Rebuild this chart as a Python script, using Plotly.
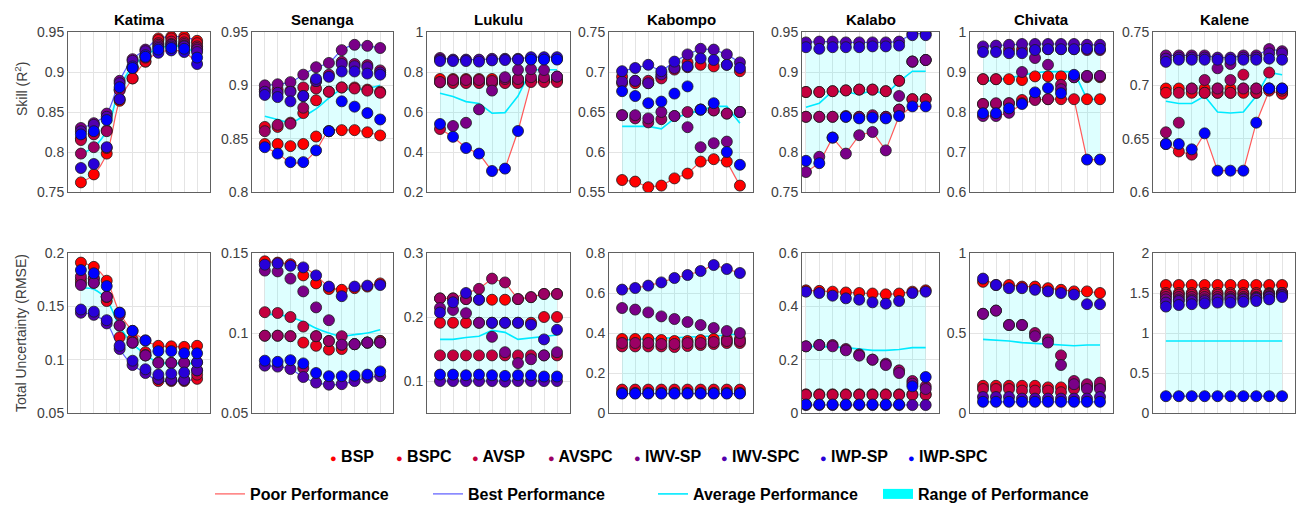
import plotly.graph_objects as go

W, H = 1300, 506

STATIONS = ["Katima", "Senanga", "Lukulu", "Kabompo", "Kalabo", "Chivata", "Kalene"]
METHODS = ["BSP", "BSPC", "AVSP", "AVSPC", "IWV-SP", "IWV-SPC", "IWP-SP", "IWP-SPC"]
COLORS = ["#ff0000", "#e8001c", "#c4003e", "#9c0064", "#7a0088", "#5200ae", "#2800d8", "#0000ff"]
LEAD = [1, 2, 3, 4, 5, 6, 7, 8, 9, 10]

# ---------------- Skill (R2) ----------------
R2_KATIMA = {
    "BSP":     [0.762, 0.772, 0.798, 0.864, 0.892, 0.913, 0.942, 0.944, 0.944, 0.939],
    "BSPC":    [0.817, 0.823, 0.805, 0.866, 0.892, 0.913, 0.940, 0.942, 0.941, 0.936],
    "AVSP":    [0.815, 0.822, 0.827, 0.878, 0.905, 0.918, 0.936, 0.938, 0.937, 0.932],
    "AVSPC":   [0.798, 0.806, 0.826, 0.877, 0.906, 0.920, 0.934, 0.935, 0.935, 0.930],
    "IWV-SP":  [0.830, 0.836, 0.848, 0.889, 0.916, 0.928, 0.932, 0.934, 0.933, 0.928],
    "IWV-SPC": [0.826, 0.834, 0.844, 0.886, 0.914, 0.926, 0.930, 0.932, 0.932, 0.925],
    "IWP-SP":  [0.780, 0.785, 0.806, 0.866, 0.907, 0.921, 0.924, 0.927, 0.925, 0.910],
    "IWP-SPC": [0.822, 0.826, 0.840, 0.881, 0.905, 0.919, 0.928, 0.930, 0.929, 0.918],
}
R2_SENANGA = {
    "BSP":     [0.845, 0.845, 0.843, 0.845, 0.852, 0.857, 0.858, 0.858, 0.856, 0.853],
    "BSPC":    [0.861, 0.861, 0.865, 0.874, 0.886, 0.894, 0.898, 0.898, 0.896, 0.894],
    "AVSP":    [0.896, 0.896, 0.895, 0.898, 0.897, 0.894, 0.898, 0.897, 0.895, 0.893],
    "AVSPC":   [0.857, 0.863, 0.864, 0.879, 0.904, 0.910, 0.922, 0.920, 0.919, 0.914],
    "IWV-SP":  [0.900, 0.901, 0.903, 0.910, 0.917, 0.921, 0.933, 0.938, 0.937, 0.935],
    "IWV-SPC": [0.894, 0.893, 0.894, 0.890, 0.904, 0.857, 0.920, 0.918, 0.917, 0.912],
    "IWP-SP":  [0.891, 0.889, 0.885, 0.890, 0.906, 0.908, 0.913, 0.913, 0.911, 0.910],
    "IWP-SPC": [0.842, 0.836, 0.828, 0.828, 0.839, 0.857, 0.885, 0.880, 0.874, 0.868],
}
R2_LUKULU = {
    "BSP":     [0.765, 0.765, 0.765, 0.765, 0.765, 0.765, 0.765, 0.760, 0.760, 0.760],
    "BSPC":    [0.748, 0.748, 0.748, 0.748, 0.748, 0.748, 0.748, 0.757, 0.757, 0.757],
    "AVSP":    [0.515, 0.745, 0.745, 0.745, 0.745, 0.745, 0.745, 0.750, 0.750, 0.750],
    "AVSPC":   [0.750, 0.760, 0.760, 0.760, 0.755, 0.765, 0.765, 0.774, 0.774, 0.777],
    "IWV-SP":  [0.870, 0.530, 0.546, 0.613, 0.707, 0.774, 0.811, 0.814, 0.810, 0.777],
    "IWV-SPC": [0.862, 0.862, 0.862, 0.862, 0.866, 0.866, 0.866, 0.866, 0.866, 0.866],
    "IWP-SP":  [0.855, 0.855, 0.855, 0.852, 0.858, 0.860, 0.862, 0.874, 0.874, 0.874],
    "IWP-SPC": [0.540, 0.476, 0.420, 0.392, 0.305, 0.317, 0.505, 0.862, 0.862, 0.862],
}
R2_KABOMPO = {
    "BSP":     [0.565, 0.563, 0.556, 0.558, 0.567, 0.573, 0.588, 0.591, 0.588, 0.558],
    "BSPC":    [0.694, 0.686, 0.686, 0.694, 0.705, 0.712, 0.709, 0.707, 0.709, 0.701],
    "AVSP":    [0.686, 0.689, 0.689, 0.692, 0.703, 0.706, 0.653, 0.652, 0.648, 0.650],
    "AVSPC":   [0.646, 0.642, 0.637, 0.641, 0.645, 0.650, 0.653, 0.652, 0.648, 0.650],
    "IWV-SP":  [0.646, 0.646, 0.642, 0.650, 0.645, 0.631, 0.606, 0.611, 0.613, 0.650],
    "IWV-SPC": [0.688, 0.689, 0.686, 0.697, 0.705, 0.722, 0.729, 0.728, 0.722, 0.712],
    "IWP-SP":  [0.701, 0.705, 0.709, 0.701, 0.713, 0.707, 0.717, 0.715, 0.709, 0.705],
    "IWP-SPC": [0.676, 0.670, 0.661, 0.663, 0.673, 0.682, 0.653, 0.661, 0.600, 0.584],
}
R2_KALABO = {
    "BSP":     [0.875, 0.875, 0.876, 0.877, 0.878, 0.878, 0.876, 0.889, 0.913, 0.915],
    "BSPC":    [0.844, 0.844, 0.844, 0.844, 0.844, 0.844, 0.844, 0.853, 0.866, 0.866],
    "AVSP":    [0.875, 0.875, 0.876, 0.877, 0.878, 0.878, 0.876, 0.889, 0.866, 0.866],
    "AVSPC":   [0.844, 0.844, 0.844, 0.845, 0.844, 0.846, 0.844, 0.853, 0.913, 0.915],
    "IWV-SP":  [0.775, 0.794, 0.818, 0.798, 0.821, 0.825, 0.802, 0.870, 0.913, 0.915],
    "IWV-SPC": [0.937, 0.938, 0.938, 0.937, 0.937, 0.937, 0.937, 0.938, 0.948, 0.948],
    "IWP-SP":  [0.931, 0.929, 0.931, 0.931, 0.931, 0.932, 0.932, 0.933, 0.946, 0.946],
    "IWP-SPC": [0.789, 0.786, 0.818, 0.844, 0.842, 0.843, 0.842, 0.845, 0.857, 0.857],
}
R2_CHIVATA = {
    "BSP":     [0.882, 0.882, 0.882, 0.880, 0.889, 0.889, 0.889, 0.887, 0.832, 0.832],
    "BSPC":    [0.820, 0.820, 0.822, 0.830, 0.832, 0.832, 0.832, 0.832, 0.887, 0.887],
    "AVSP":    [0.882, 0.882, 0.956, 0.956, 0.956, 0.957, 0.957, 0.957, 0.890, 0.890],
    "AVSPC":   [0.820, 0.822, 0.822, 0.822, 0.830, 0.832, 0.868, 0.887, 0.955, 0.955],
    "IWV-SP":  [0.790, 0.790, 0.798, 0.900, 0.935, 0.918, 0.857, 0.887, 0.890, 0.890],
    "IWV-SPC": [0.964, 0.966, 0.968, 0.970, 0.970, 0.970, 0.970, 0.970, 0.968, 0.968],
    "IWP-SP":  [0.950, 0.950, 0.947, 0.947, 0.955, 0.957, 0.957, 0.957, 0.958, 0.958],
    "IWP-SPC": [0.797, 0.797, 0.809, 0.820, 0.849, 0.860, 0.847, 0.893, 0.681, 0.681],
}
R2_KALENE = {
    "BSP":     [0.697, 0.697, 0.697, 0.697, 0.697, 0.697, 0.697, 0.697, 0.697, 0.693],
    "BSPC":    [0.693, 0.638, 0.693, 0.693, 0.693, 0.693, 0.693, 0.693, 0.695, 0.692],
    "AVSP":    [0.645, 0.693, 0.635, 0.693, 0.693, 0.693, 0.710, 0.693, 0.712, 0.695],
    "AVSPC":   [0.656, 0.665, 0.697, 0.705, 0.697, 0.705, 0.697, 0.697, 0.697, 0.697],
    "IWV-SP":  [0.728, 0.728, 0.728, 0.728, 0.716, 0.720, 0.728, 0.728, 0.734, 0.732],
    "IWV-SPC": [0.725, 0.726, 0.726, 0.726, 0.726, 0.726, 0.726, 0.726, 0.730, 0.730],
    "IWP-SP":  [0.722, 0.724, 0.724, 0.724, 0.724, 0.724, 0.724, 0.724, 0.725, 0.724],
    "IWP-SPC": [0.645, 0.645, 0.640, 0.655, 0.620, 0.620, 0.620, 0.665, 0.697, 0.697],
}
R2_AVG = {
    "Katima":  [0.798, 0.806, 0.827, 0.880, 0.907, 0.920, 0.930, 0.932, 0.932, 0.921],
    "Senanga": [0.871, 0.868, 0.865, 0.871, 0.878, 0.888, 0.896, 0.896, 0.897, 0.900],
    "Lukulu":  [0.694, 0.677, 0.652, 0.643, 0.594, 0.597, 0.680, 0.811, 0.811, 0.811],
    "Kabompo": [0.632, 0.632, 0.632, 0.629, 0.642, 0.648, 0.652, 0.657, 0.657, 0.636],
    "Kalabo":  [0.856, 0.861, 0.876, 0.875, 0.872, 0.877, 0.872, 0.888, 0.901, 0.901],
    "Chivata": [0.876, 0.880, 0.885, 0.892, 0.898, 0.901, 0.901, 0.901, 0.832, 0.832],
    "Kalene":  [0.685, 0.683, 0.683, 0.690, 0.675, 0.674, 0.675, 0.690, 0.712, 0.710],
}

# ---------------- Total uncertainty (RMSE) ----------------
RMSE_KATIMA = {
    "BSP":     [0.191, 0.187, 0.174, 0.144, 0.127, 0.118, 0.113, 0.1125, 0.112, 0.113],
    "BSPC":    [0.172, 0.172, 0.155, 0.121, 0.119, 0.107, 0.080, 0.080, 0.080, 0.082],
    "AVSP":    [0.175, 0.176, 0.159, 0.132, 0.116, 0.104, 0.082, 0.081, 0.081, 0.086],
    "AVSPC":   [0.178, 0.176, 0.159, 0.142, 0.116, 0.104, 0.0975, 0.097, 0.097, 0.0975],
    "IWV-SP":  [0.170, 0.172, 0.159, 0.132, 0.116, 0.104, 0.097, 0.097, 0.097, 0.090],
    "IWV-SPC": [0.144, 0.142, 0.134, 0.110, 0.095, 0.0875, 0.082, 0.081, 0.081, 0.090],
    "IWP-SP":  [0.147, 0.145, 0.137, 0.113, 0.099, 0.091, 0.086, 0.087, 0.088, 0.0975],
    "IWP-SPC": [0.184, 0.181, 0.169, 0.144, 0.127, 0.118, 0.108, 0.108, 0.106, 0.106],
}
RMSE_SENANGA = {
    "BSP":     [0.1448, 0.144, 0.143, 0.136, 0.131, 0.1275, 0.127, 0.128, 0.129, 0.131],
    "BSPC":    [0.0983, 0.0983, 0.098, 0.094, 0.092, 0.0896, 0.090, 0.093, 0.094, 0.095],
    "AVSP":    [0.113, 0.1125, 0.110, 0.104, 0.098, 0.095, 0.0927, 0.093, 0.094, 0.095],
    "AVSPC":   [0.0983, 0.0983, 0.098, 0.078, 0.098, 0.095, 0.098, 0.093, 0.094, 0.094],
    "IWV-SP":  [0.139, 0.1385, 0.134, 0.126, 0.116, 0.108, 0.0927, 0.093, 0.094, 0.094],
    "IWV-SPC": [0.0796, 0.079, 0.0775, 0.0725, 0.069, 0.0677, 0.068, 0.070, 0.0721, 0.073],
    "IWP-SP":  [0.1427, 0.1435, 0.142, 0.141, 0.136, 0.129, 0.123, 0.129, 0.1296, 0.130],
    "IWP-SPC": [0.0827, 0.082, 0.083, 0.081, 0.075, 0.073, 0.073, 0.0733, 0.074, 0.076],
}
RMSE_LUKULU = {
    "BSP":     [0.229, 0.229, 0.228, 0.227, 0.227, 0.227, 0.228, 0.231, 0.236, 0.236],
    "BSPC":    [0.191, 0.191, 0.191, 0.191, 0.191, 0.191, 0.191, 0.191, 0.200, 0.200],
    "AVSP":    [0.140, 0.140, 0.140, 0.140, 0.140, 0.140, 0.140, 0.140, 0.140, 0.140],
    "AVSPC":   [0.229, 0.229, 0.228, 0.244, 0.260, 0.254, 0.228, 0.231, 0.236, 0.236],
    "IWV-SP":  [0.214, 0.211, 0.206, 0.191, 0.169, 0.145, 0.128, 0.134, 0.140, 0.145],
    "IWV-SPC": [0.100, 0.100, 0.100, 0.100, 0.100, 0.099, 0.100, 0.100, 0.100, 0.100],
    "IWP-SP":  [0.207, 0.223, 0.2375, 0.227, 0.191, 0.191, 0.191, 0.188, 0.165, 0.180],
    "IWP-SPC": [0.110, 0.110, 0.109, 0.110, 0.109, 0.108, 0.109, 0.109, 0.107, 0.107],
}
RMSE_KABOMPO = {
    "BSP":     [0.370, 0.370, 0.370, 0.365, 0.360, 0.360, 0.365, 0.370, 0.370, 0.370],
    "BSPC":    [0.117, 0.117, 0.117, 0.117, 0.117, 0.117, 0.117, 0.117, 0.117, 0.117],
    "AVSP":    [0.333, 0.333, 0.333, 0.333, 0.330, 0.335, 0.340, 0.345, 0.350, 0.350],
    "AVSPC":   [0.350, 0.350, 0.350, 0.345, 0.345, 0.350, 0.350, 0.355, 0.360, 0.360],
    "IWV-SP":  [0.525, 0.517, 0.503, 0.483, 0.470, 0.455, 0.440, 0.425, 0.410, 0.400],
    "IWV-SPC": [0.100, 0.100, 0.100, 0.100, 0.100, 0.100, 0.100, 0.100, 0.100, 0.100],
    "IWP-SP":  [0.617, 0.625, 0.637, 0.653, 0.675, 0.690, 0.710, 0.740, 0.720, 0.700],
    "IWP-SPC": [0.097, 0.097, 0.097, 0.097, 0.097, 0.097, 0.097, 0.097, 0.097, 0.097],
}
RMSE_KALABO = {
    "BSP":     [0.460, 0.458, 0.455, 0.452, 0.450, 0.448, 0.445, 0.448, 0.455, 0.460],
    "BSPC":    [0.070, 0.070, 0.070, 0.070, 0.070, 0.070, 0.070, 0.070, 0.070, 0.070],
    "AVSP":    [0.068, 0.068, 0.068, 0.068, 0.068, 0.068, 0.068, 0.068, 0.068, 0.068],
    "AVSPC":   [0.250, 0.255, 0.255, 0.240, 0.220, 0.200, 0.185, 0.160, 0.120, 0.100],
    "IWV-SP":  [0.250, 0.255, 0.250, 0.235, 0.215, 0.200, 0.180, 0.150, 0.110, 0.090],
    "IWV-SPC": [0.030, 0.030, 0.030, 0.030, 0.030, 0.030, 0.030, 0.030, 0.030, 0.030],
    "IWP-SP":  [0.455, 0.450, 0.440, 0.430, 0.425, 0.415, 0.410, 0.420, 0.450, 0.455],
    "IWP-SPC": [0.032, 0.032, 0.032, 0.032, 0.032, 0.032, 0.032, 0.032, 0.100, 0.135],
}
RMSE_CHIVATA = {
    "BSP":     [0.820, 0.800, 0.800, 0.790, 0.790, 0.780, 0.770, 0.760, 0.760, 0.750],
    "BSPC":    [0.170, 0.170, 0.170, 0.170, 0.170, 0.160, 0.160, 0.160, 0.160, 0.160],
    "AVSP":    [0.150, 0.150, 0.150, 0.140, 0.140, 0.140, 0.130, 0.150, 0.170, 0.170],
    "AVSPC":   [0.620, 0.640, 0.550, 0.550, 0.500, 0.460, 0.360, 0.200, 0.180, 0.190],
    "IWV-SP":  [0.620, 0.640, 0.550, 0.550, 0.480, 0.440, 0.300, 0.180, 0.150, 0.150],
    "IWV-SPC": [0.100, 0.100, 0.100, 0.090, 0.090, 0.090, 0.090, 0.090, 0.090, 0.100],
    "IWP-SP":  [0.840, 0.800, 0.780, 0.780, 0.770, 0.760, 0.750, 0.740, 0.680, 0.680],
    "IWP-SPC": [0.070, 0.070, 0.070, 0.070, 0.070, 0.070, 0.070, 0.070, 0.070, 0.070],
}
RMSE_KALENE = {
    "BSP":     [1.60, 1.60, 1.60, 1.60, 1.60, 1.60, 1.60, 1.60, 1.60, 1.60],
    "BSPC":    [1.50, 1.50, 1.50, 1.50, 1.50, 1.50, 1.50, 1.50, 1.50, 1.50],
    "AVSP":    [1.48, 1.48, 1.48, 1.48, 1.48, 1.48, 1.48, 1.48, 1.49, 1.50],
    "AVSPC":   [1.45, 1.45, 1.45, 1.45, 1.45, 1.45, 1.45, 1.45, 1.48, 1.50],
    "IWV-SP":  [1.42, 1.42, 1.42, 1.42, 1.42, 1.43, 1.43, 1.44, 1.46, 1.48],
    "IWV-SPC": [1.38, 1.40, 1.40, 1.40, 1.42, 1.42, 1.42, 1.43, 1.45, 1.47],
    "IWP-SP":  [1.33, 1.35, 1.36, 1.37, 1.38, 1.38, 1.39, 1.40, 1.42, 1.45],
    "IWP-SPC": [0.21, 0.21, 0.21, 0.21, 0.21, 0.21, 0.21, 0.21, 0.21, 0.21],
}
RMSE_AVG = {
    "Katima":  [0.167, 0.166, 0.156, 0.131, 0.115, 0.105, 0.097, 0.097, 0.096, 0.097],
    "Senanga": [0.1115, 0.1115, 0.110, 0.107, 0.103, 0.100, 0.098, 0.099, 0.100, 0.102],
    "Lukulu":  [0.165, 0.165, 0.168, 0.170, 0.179, 0.176, 0.165, 0.167, 0.170, 0.172],
    "Kabompo": [0.365, 0.368, 0.370, 0.372, 0.375, 0.378, 0.380, 0.385, 0.390, 0.395],
    "Kalabo":  [0.250, 0.250, 0.248, 0.245, 0.240, 0.235, 0.235, 0.238, 0.245, 0.245],
    "Chivata": [0.460, 0.455, 0.450, 0.440, 0.435, 0.430, 0.425, 0.420, 0.425, 0.425],
    "Kalene":  [0.90, 0.90, 0.90, 0.90, 0.90, 0.90, 0.90, 0.90, 0.90, 0.90],
}

R2_DATA = {"Katima": R2_KATIMA, "Senanga": R2_SENANGA, "Lukulu": R2_LUKULU, "Kabompo": R2_KABOMPO,
           "Kalabo": R2_KALABO, "Chivata": R2_CHIVATA, "Kalene": R2_KALENE}
RMSE_DATA = {"Katima": RMSE_KATIMA, "Senanga": RMSE_SENANGA, "Lukulu": RMSE_LUKULU, "Kabompo": RMSE_KABOMPO,
             "Kalabo": RMSE_KALABO, "Chivata": RMSE_CHIVATA, "Kalene": RMSE_KALENE}

# axis scales and tick labels
R2_RANGE = {"Katima": (0.75, 0.95), "Senanga": (0.8, 0.95), "Lukulu": (0.2, 1.0), "Kabompo": (0.55, 0.75),
            "Kalabo": (0.75, 0.95), "Chivata": (0.6, 1.0), "Kalene": (0.6, 0.75)}
R2_TICKS = {"Katima": [0.75, 0.8, 0.85, 0.9, 0.95], "Senanga": [0.8, 0.85, 0.9, 0.95],
            "Lukulu": [0.2, 0.4, 0.6, 0.8, 1], "Kabompo": [0.55, 0.6, 0.65, 0.7, 0.75],
            "Kalabo": [0.75, 0.8, 0.85, 0.9, 0.95], "Chivata": [0.6, 0.7, 0.8, 0.9, 1],
            "Kalene": [0.6, 0.65, 0.7, 0.75]}
RMSE_RANGE = {"Katima": (0.05, 0.2), "Senanga": (0.05, 0.15), "Lukulu": (0.05, 0.3), "Kabompo": (0, 0.8),
              "Kalabo": (0, 0.6), "Chivata": (0, 1), "Kalene": (0, 2)}
RMSE_TICKS = {"Katima": [0.05, 0.1, 0.15, 0.2], "Senanga": [0.05, 0.1, 0.15], "Lukulu": [0.1, 0.2, 0.3],
              "Kabompo": [0, 0.2, 0.4, 0.6, 0.8], "Kalabo": [0, 0.2, 0.4, 0.6], "Chivata": [0, 0.5, 1],
              "Kalene": [0, 0.5, 1, 1.5, 2]}

# ---------------- layout geometry (pixels) ----------------
COL_PX = [(68, 210), (252, 393), (427, 570), (609, 753), (802, 939), (970, 1113), (1153, 1295)]
XRANGE = {"Kalabo": (0.7, 11)}
ROW_PX = [(32, 192), (253, 413)]
SMOOTH = {"Katima", "Senanga"}

FONT = "Liberation Sans, Arial, sans-serif"
LEG_FONT = dict(family="Liberation Sans Narrow, Arial Narrow, Liberation Sans, Arial, sans-serif",
                size=16, color="black", weight="bold")

fig = go.Figure()
layout = {}

for row in range(2):
    for col, st in enumerate(STATIONS):
        idx = row * 7 + col + 1
        xs = "x" if idx == 1 else f"x{idx}"
        ys = "y" if idx == 1 else f"y{idx}"
        if row == 0:
            series, avg, yr, tv = R2_DATA[st], R2_AVG[st], R2_RANGE[st], R2_TICKS[st]
        else:
            series, avg, yr, tv = RMSE_DATA[st], RMSE_AVG[st], RMSE_RANGE[st], RMSE_TICKS[st]
        cols = list(zip(*[series[m] for m in METHODS]))
        hi = [max(c) for c in cols]
        lo = [min(c) for c in cols]
        poor, best = (lo, hi) if row == 0 else (hi, lo)
        shape = "spline" if st in SMOOTH else "linear"
        common = dict(xaxis=xs, yaxis=ys, showlegend=False, hoverinfo="skip")
        fig.add_trace(go.Scatter(x=LEAD, y=hi, mode="lines", line=dict(width=0, shape=shape), **common))
        fig.add_trace(go.Scatter(x=LEAD, y=lo, mode="lines", fill="tonexty",
                                 fillcolor="rgba(0,255,255,0.13)", line=dict(width=0, shape=shape), **common))
        fig.add_trace(go.Scatter(x=LEAD, y=poor, mode="lines",
                                 line=dict(color="#ff5a5a", width=1.2, shape=shape), **common))
        fig.add_trace(go.Scatter(x=LEAD, y=best, mode="lines",
                                 line=dict(color="#5a5aff", width=1.2, shape=shape), **common))
        fig.add_trace(go.Scatter(x=LEAD, y=avg, mode="lines",
                                 line=dict(color="#00eaff", width=1.6, shape=shape), **common))
        for m, c in zip(METHODS, COLORS):
            fig.add_trace(go.Scatter(x=LEAD, y=series[m], mode="markers", name=m,
                                     marker=dict(color=c, size=11, line=dict(color="#1a1a1a", width=0.8)),
                                     **common))
        x0, x1 = COL_PX[col]
        y0, y1 = ROW_PX[row]
        xr = XRANGE.get(st, (0, 11))
        layout["xaxis" if idx == 1 else f"xaxis{idx}"] = dict(
            domain=[x0 / W, x1 / W], range=list(xr), anchor=ys, automargin=False,
            tickvals=LEAD, showticklabels=False, ticks="",
            showgrid=True, gridcolor="#e4e4e4", gridwidth=1, zeroline=False,
            showline=True, mirror=True, linecolor="#606060", linewidth=1)
        layout["yaxis" if idx == 1 else f"yaxis{idx}"] = dict(
            domain=[1 - y1 / H, 1 - y0 / H], range=list(yr), anchor=xs, automargin=False,
            tickvals=tv, ticktext=[f"{v:g}" for v in tv], ticks="",
            tickfont=dict(family=FONT, size=14, color="#404040"),
            showgrid=True, gridcolor="#e4e4e4", gridwidth=1, zeroline=False,
            showline=True, mirror=True, linecolor="#606060", linewidth=1)

annotations = []
for col, st in enumerate(STATIONS):
    x0, x1 = COL_PX[col]
    annotations.append(dict(text=f"<b>{st}</b>", x=(x0 + x1) / 2 / W, y=1 - 20 / H,
                            xref="paper", yref="paper", showarrow=False, xanchor="center", yanchor="middle",
                            font=dict(family=FONT, size=15, color="black")))
annotations.append(dict(text="Skill (R<sup>2</sup>)", x=21 / W, y=1 - 89 / H, xref="paper", yref="paper",
                        showarrow=False, textangle=-90, xanchor="center", yanchor="middle",
                        font=dict(family=FONT, size=14, color="#404040")))
annotations.append(dict(text="Total Uncertainty (RMSE)", x=21 / W, y=1 - 333 / H, xref="paper", yref="paper",
                        showarrow=False, textangle=-90, xanchor="center", yanchor="middle",
                        font=dict(family=FONT, size=14, color="#404040")))

# ---------------- legends ----------------
LEG1_START_PX = [330, 396, 472, 548, 634, 721, 820, 908]
LEG2_TEXT_PX = [250, 468, 693, 918]
LEG2_NAMES = ["Poor Performance", "Best Performance", "Average Performance", "Range of Performance"]
LEG2_STYLE = [("#ff5a5a", 1.2), ("#5a5aff", 1.2), ("#00eaff", 1.6), ("#00ffff", 14)]

leg_n = 0
for m, c, s in zip(METHODS, COLORS, LEG1_START_PX):
    leg_n += 1
    key = "legend" if leg_n == 1 else f"legend{leg_n}"
    label = f'<span style="color:{c};font-size:11px">\u25cf</span> {m}'
    fig.add_trace(go.Scatter(x=[None], y=[None], mode="lines", name=label, legend=key,
                             line=dict(color="rgba(0,0,0,0)", width=0)))
    layout[key] = dict(x=(s - 40) / W, y=1 - 456 / H, xanchor="left", yanchor="middle",
                       orientation="h", bgcolor="rgba(0,0,0,0)", borderwidth=0, font=LEG_FONT)
for name, (c, w), t in zip(LEG2_NAMES, LEG2_STYLE, LEG2_TEXT_PX):
    leg_n += 1
    key = f"legend{leg_n}"
    fig.add_trace(go.Scatter(x=[None], y=[None], mode="lines", name=name, legend=key,
                             line=dict(color=c, width=w)))
    layout[key] = dict(x=(t - 40) / W, y=1 - 494 / H, xanchor="left", yanchor="middle",
                       orientation="h", bgcolor="rgba(0,0,0,0)", borderwidth=0, font=LEG_FONT)

fig.update_layout(width=W, height=H, margin=dict(l=0, r=0, t=0, b=0, autoexpand=False),
                  plot_bgcolor="white", paper_bgcolor="white", annotations=annotations,
                  showlegend=True, **layout)

fig.write_html("out.html", config={"displayModeBar": False},
               post_script="document.body.style.margin='0';document.body.style.padding='0';")
